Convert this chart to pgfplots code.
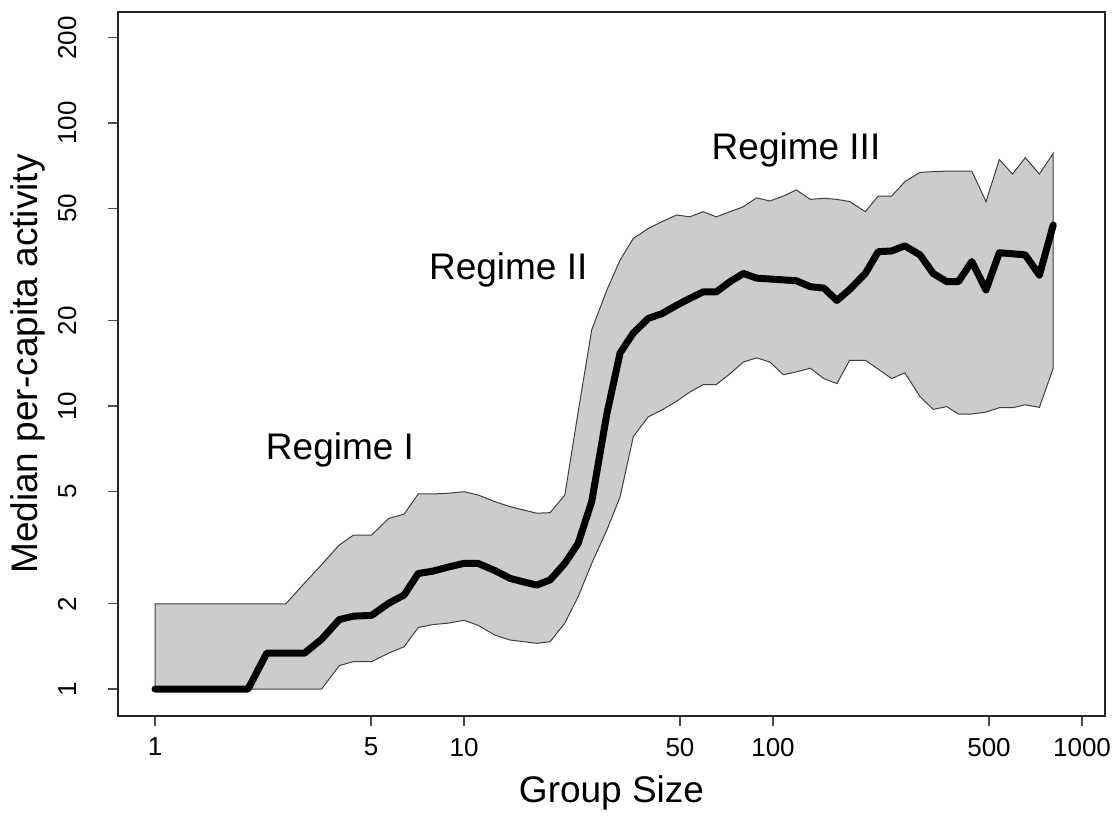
\documentclass[border=0pt]{standalone}
\usepackage{fontspec}
\setmainfont{Liberation Sans}
\usepackage{pgfplots}
\usepackage{pgfplotstable}
\pgfplotsset{compat=1.18}
\usepgfplotslibrary{fillbetween}

% group size, lower band, median, upper band
\pgfplotstableread{
n lo med hi
1 1 1 2
2 1 1 2
2.3 1 1.34 2
2.65 1 1.34 2
3.05 1 1.34 2.37
3.46 1 1.50 2.75
3.95 1.21 1.76 3.23
4.39 1.25 1.81 3.50
5.02 1.25 1.82 3.50
5.71 1.34 2.01 4.01
6.40 1.41 2.15 4.15
7.11 1.65 2.56 4.89
7.94 1.69 2.61 4.89
8.91 1.71 2.70 4.92
10.0 1.75 2.78 4.98
11.1 1.68 2.78 4.85
12.6 1.55 2.62 4.59
14.1 1.49 2.46 4.41
15.6 1.47 2.39 4.29
17.2 1.45 2.33 4.18
19.0 1.47 2.43 4.20
21.2 1.71 2.78 4.85
23.4 2.12 3.27 9.5
25.9 2.78 4.6 18.6
29.0 3.65 9.4 25.7
32.0 4.78 15.4 32.8
35.3 7.79 18.1 39.1
39.5 9.16 20.4 42.4
43.7 9.68 21.2 44.8
48.8 10.4 22.7 47.3
53.8 11.2 24.0 46.6
59.4 11.9 25.3 48.6
65.5 11.9 25.3 46.6
72.6 13.0 27.5 48.6
80.2 14.3 29.4 50.6
88.5 14.8 28.3 54.4
97.7 14.3 28.1 53.0
108 12.9 27.9 55.2
119 13.2 27.7 58.0
132 13.6 26.4 53.7
146 12.5 26.1 54.2
161 12.0 23.6 53.7
177 14.5 25.8 52.8
199 14.5 29.4 48.6
219 13.5 35.1 55.2
242 12.5 35.3 55.2
267 13.1 36.8 62.0
299 10.8 34.2 66.9
330 9.73 29.4 67.3
365 9.95 27.5 67.6
398 9.37 27.5 67.6
440 9.37 32.4 67.6
489 9.52 25.7 52.7
540 9.86 34.8 74.3
596 9.86 34.5 66.0
655 10.1 34.2 75.4
728 9.89 29.0 66.0
807 13.6 43.6 78.1
}\activity

\begin{document}
\begin{tikzpicture}
\begin{axis}[
  scale only axis, width=493.5pt, height=352pt,
  xmode=log, ymode=log,
  xmin=0.759, xmax=1187, ymin=0.803, ymax=246.7,
  xtick={1,5,10,50,100,500,1000},
  xticklabels={1,5,10,50,100,500,1000},
  ytick={1,2,5,10,20,50,100,200},
  yticklabels={1,2,5,10,20,50,100,200},
  minor xtick={}, minor ytick={},
  tick align=outside, xtick pos=bottom, ytick pos=left,
  major tick length=5pt,
  tick style={black!70, line width=0.6pt},
  axis line style={black!85, line width=0.6pt},
  tick label style={font=\fontsize{13}{15}\selectfont},
  /pgf/number format/assume math mode=true,
  yticklabel style={rotate=90, anchor=base},
  yticklabel shift=16pt,
  xticklabel shift=2.5pt,
  xlabel={Group Size}, ylabel={Median per-capita activity},
  label style={font=\fontsize{18.5}{22}\selectfont},
  xlabel style={at={(axis description cs:0.5,-0.1222)}, anchor=base},
  ylabel style={at={(axis description cs:-0.0912,0.5)}, anchor=center},
  clip=false,
]
\addplot[name path=upper, draw=none] table[x=n, y=hi] {\activity};
\addplot[name path=lower, draw=none] table[x=n, y=lo] {\activity};
\addplot[fill=black!20, draw=black!75, line width=0.5pt] fill between[of=upper and lower];
\addplot[black, line width=3.5pt, line join=round, line cap=round] table[x=n, y=med] {\activity};

\node[font=\fontsize{18.5}{22}\selectfont, anchor=base] at (axis cs:3.97,6.45) {Regime I};
\node[font=\fontsize{18.5}{22}\selectfont, anchor=base] at (axis cs:13.9,27.9) {Regime II};
\node[font=\fontsize{18.5}{22}\selectfont, anchor=base] at (axis cs:118.7,74.0) {Regime III};
\end{axis}
\path ([shift={(-59pt,-46.5pt)}]current axis.south west) rectangle ([shift={(7pt,6pt)}]current axis.north east);
\end{tikzpicture}
\end{document}
